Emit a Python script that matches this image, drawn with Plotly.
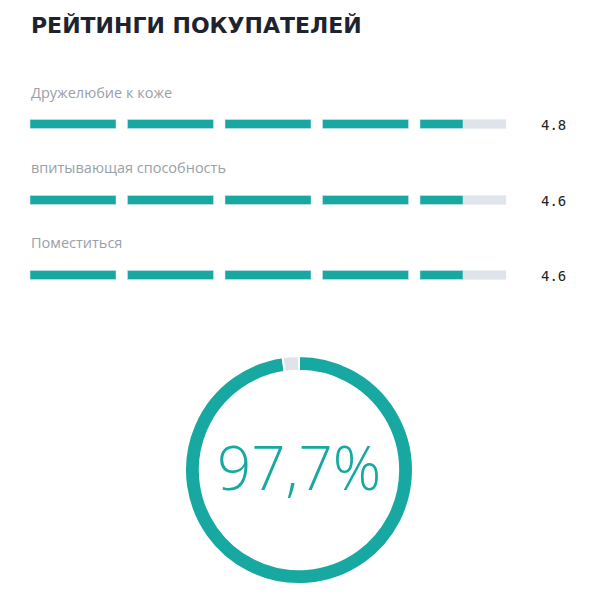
import plotly.graph_objects as go

title = "РЕЙТИНГИ ПОКУПАТЕЛЕЙ"
categories = ["Дружелюбие к коже", "впитывающая способность", "Поместиться"]
ratings = [4.8, 4.6, 4.6]
value_labels = ["4.8", "4.6", "4.6"]
last_segment_fill = [0.5, 0.5, 0.5]  # as drawn in picture
percent = 97.7
percent_label = "97,7%"

TEAL = "#17a9a1"
GRAY = "#dfe4ea"
OFF = 8  # page body margin

seg_w, gap, x0 = 86, 11.5, 30
row_y = [124, 200, 275]
label_y = [92, 167, 242]

fig = go.Figure()
for i, cat in enumerate(categories):
    starts = [x0 + k * (seg_w + gap) for k in range(5)]
    fig.add_trace(go.Bar(orientation="h", y=[row_y[i]] * 5, x=[seg_w] * 5, base=starts,
                         width=9, marker_color=GRAY, hoverinfo="skip", showlegend=False))
    fills = [1.0] * 4 + [last_segment_fill[i]]
    fig.add_trace(go.Bar(orientation="h", y=[row_y[i]] * 5, x=[seg_w * f for f in fills], base=starts,
                         width=9, marker_color=TEAL, hoverinfo="skip", showlegend=False))
    fig.add_annotation(x=x0 - 1, y=label_y[i], text=cat, showarrow=False, xanchor="left", yanchor="middle",
                       font=dict(family="Open Sans", size=14.5, color="#9aa0a8"))
    fig.add_annotation(x=568, y=row_y[i] + 1, text=value_labels[i], showarrow=False, xanchor="right",
                       yanchor="middle", font=dict(family="DejaVu Sans Mono", size=14, color="#222"))

fig.add_annotation(x=29, y=25, text="<b>" + title + "</b>", showarrow=False,
                   xanchor="left", yanchor="middle",
                   font=dict(family="DejaVu Sans", size=22, color="#1e2330"))

fig.add_trace(go.Pie(values=[percent, 100 - percent], marker=dict(colors=[TEAL, GRAY], line=dict(color="white", width=2)),
                     hole=0.87, sort=False, direction="clockwise", rotation=0, textinfo="none",
                     hoverinfo="skip", showlegend=False,
                     domain=dict(x=[(185 - OFF) / 600, (413 - OFF) / 600],
                                 y=[(15 + OFF) / 600, (245 + OFF) / 600])))
fig.add_annotation(x=299, y=467, text=percent_label, showarrow=False, xanchor="center", yanchor="middle",
                   font=dict(family="Open Sans", size=60, color=TEAL, weight=300))

fig.update_layout(width=600, height=600, margin=dict(l=0, r=0, t=0, b=0), plot_bgcolor="white",
                  paper_bgcolor="white", barmode="overlay",
                  xaxis=dict(range=[OFF, 600 + OFF], visible=False, fixedrange=True),
                  yaxis=dict(range=[600 + OFF, OFF], visible=False, fixedrange=True))
fig.write_html("out.html")
